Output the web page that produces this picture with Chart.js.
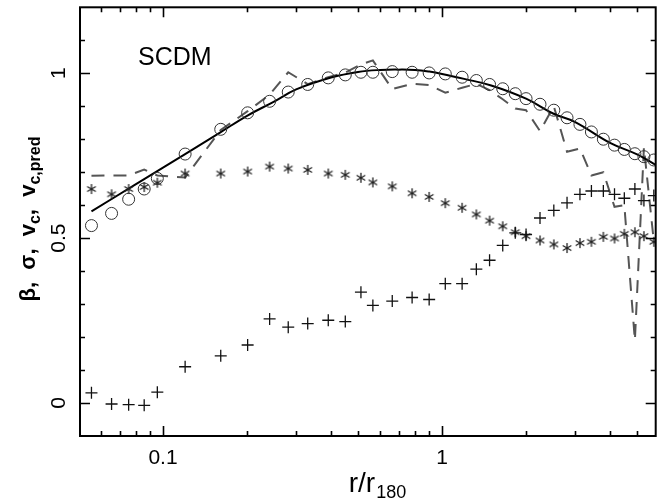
<!DOCTYPE html>
<html><head><meta charset="utf-8">
<script src="https://cdn.jsdelivr.net/npm/chart.js@4.4.1/dist/chart.umd.min.js"></script>
<style>html,body{margin:0;padding:0;background:#fff;} #wrap{width:663px;height:503px;}</style>
</head><body><div id="wrap"><canvas id="c" width="663" height="503"></canvas></div>
<script>
// ---- data ----
const radius = [0.0554, 0.0654, 0.0753, 0.0856, 0.0954, 0.120, 0.161, 0.201, 0.241, 0.281, 0.330, 0.391, 0.450, 0.512, 0.565, 0.663, 0.781, 0.899, 1.027, 1.18, 1.327, 1.48, 1.65, 1.83, 2.0, 2.244, 2.515, 2.805, 3.12, 3.43, 3.785, 4.15, 4.5, 4.91, 5.29, 5.74];
const betaVals = [0.031, -0.003, -0.005, -0.007, 0.033, 0.110, 0.143, 0.176, 0.255, 0.230, 0.241, 0.251, 0.247, 0.336, 0.296, 0.309, 0.320, 0.314, 0.362, 0.362, 0.406, 0.433, 0.478, 0.516, 0.511, 0.561, 0.584, 0.607, 0.633, 0.643, 0.643, 0.633, 0.621, 0.649, 0.614, 0.629];
const sigmaVals = [0.649, 0.633, 0.649, 0.655, 0.668, 0.696, 0.696, 0.702, 0.717, 0.711, 0.707, 0.696, 0.692, 0.683, 0.669, 0.657, 0.636, 0.625, 0.606, 0.592, 0.572, 0.553, 0.536, 0.518, 0.506, 0.493, 0.481, 0.470, 0.485, 0.489, 0.504, 0.499, 0.513, 0.518, 0.506, 0.489];
const vcVals = [0.538, 0.575, 0.618, 0.649, 0.681, 0.755, 0.830, 0.880, 0.915, 0.943, 0.966, 0.986, 0.995, 1.003, 1.003, 1.005, 1.003, 1.001, 0.998, 0.988, 0.978, 0.966, 0.953, 0.938, 0.923, 0.906, 0.888, 0.865, 0.845, 0.822, 0.800, 0.782, 0.769, 0.756, 0.747, 0.737];
const dashVals = [0.689, 0.690, 0.690, 0.708, 0.690, 0.684, 0.828, 0.885, 0.935, 1.003, 0.967, 0.988, 1.002, 1.027, 1.039, 0.952, 0.968, 0.964, 0.941, 0.956, 0.968, 0.949, 0.921, 0.893, 0.888, 0.825, 0.900, 0.762, 0.772, 0.690, 0.700, 0.595, 0.600, 0.190, 0.775, 0.490];
const predR = [0.0554, 0.08, 0.12, 0.16, 0.2, 0.25, 0.3, 0.4, 0.5, 0.6, 0.7, 0.8, 0.9, 1.0, 1.2, 1.5, 2, 2.5, 3, 4, 5, 5.83];
const predVals = [0.581, 0.664, 0.755, 0.820, 0.871, 0.914, 0.951, 0.987, 1.004, 1.010, 1.011, 1.010, 1.005, 0.998, 0.983, 0.963, 0.923, 0.878, 0.852, 0.789, 0.754, 0.722];
const xMajorTicks = [0.1, 1];
const xMinorTicks = [0.06, 0.07, 0.08, 0.09, 0.2, 0.3, 0.4, 0.5, 0.6, 0.7, 0.8, 0.9, 2, 3, 4, 5];
const yMajorTicks = [0, 0.5, 1];
const yMinorTicks = [0.1, 0.2, 0.3, 0.4, 0.6, 0.7, 0.8, 0.9, 1.1];
const xTickLabels = ['0.1', '1'];
const yTickLabels = ['0', '0.5', '1'];

const zip = (xs, ys) => xs.map((x, i) => ({x: x, y: ys[i]}));

function asterisk(r, color) {
  const c = document.createElement('canvas');
  const s = Math.ceil(2 * r + 4);
  c.width = s; c.height = s;
  const g = c.getContext('2d');
  g.strokeStyle = color; g.lineWidth = 1.3;
  const m = s / 2;
  g.beginPath();
  for (const a of [90, 30, -30]) {
    const t = a * Math.PI / 180;
    g.moveTo(m - r * Math.cos(t), m - r * Math.sin(t));
    g.lineTo(m + r * Math.cos(t), m + r * Math.sin(t));
  }
  g.stroke();
  return c;
}

const FONT = '"Liberation Sans", Arial, Helvetica, sans-serif';

const framePlugin = {
  id: 'framePlugin',
  afterDatasetsDraw(chart) {
    const ctx = chart.ctx, a = chart.chartArea;
    const xs = chart.scales.x, ys = chart.scales.y;
    ctx.save();
    ctx.strokeStyle = '#000';
    ctx.lineWidth = 2;
    ctx.strokeRect(a.left, a.top, a.right - a.left, a.bottom - a.top);
    ctx.lineWidth = 1.6;
    ctx.beginPath();
    const xt = (v, len) => {
      const p = Math.round(xs.getPixelForValue(v)) + 0.5;
      ctx.moveTo(p, a.bottom); ctx.lineTo(p, a.bottom - len);
      ctx.moveTo(p, a.top); ctx.lineTo(p, a.top + len);
    };
    const yt = (v, len) => {
      const p = Math.round(ys.getPixelForValue(v)) + 0.5;
      ctx.moveTo(a.left, p); ctx.lineTo(a.left + len, p);
      ctx.moveTo(a.right, p); ctx.lineTo(a.right - len, p);
    };
    xMajorTicks.forEach(v => xt(v, 10));
    xMinorTicks.forEach(v => xt(v, 5));
    yMajorTicks.forEach(v => yt(v, 10));
    yMinorTicks.forEach(v => yt(v, 5));
    ctx.stroke();

    ctx.fillStyle = '#000';
    ctx.font = '21px ' + FONT;
    ctx.textAlign = 'center';
    ctx.textBaseline = 'alphabetic';
    xMajorTicks.forEach((v, i) => ctx.fillText(xTickLabels[i], xs.getPixelForValue(v), 464));
    yMajorTicks.forEach((v, i) => {
      ctx.save();
      ctx.translate(65, ys.getPixelForValue(v));
      ctx.rotate(-Math.PI / 2);
      ctx.fillText(yTickLabels[i], 0, 0);
      ctx.restore();
    });

    // SCDM label
    ctx.textAlign = 'left';
    ctx.font = '25px ' + FONT;
    ctx.fillText('SCDM', 138, 65);

    // x axis title r/r_180
    const mainF = '28px ' + FONT, subF = '18px ' + FONT;
    ctx.font = mainF; const w1 = ctx.measureText('r/r').width;
    ctx.font = subF; const w2 = ctx.measureText('180').width;
    let x0 = 377 - (w1 + w2) / 2;
    ctx.font = mainF; ctx.fillText('r/r', x0, 492);
    ctx.font = subF; ctx.fillText('180', x0 + w1 + 1, 498);

    // y axis title
    const parts = [
      ['\u03b2,  \u03c3,  v', 0], ['c', 1], [',  v', 0], ['c,pred', 1]
    ];
    const yMain = 'bold 22px ' + FONT, ySub = 'bold 16px ' + FONT;
    let tot = 0;
    parts.forEach(p => { ctx.font = p[1] ? ySub : yMain; tot += ctx.measureText(p[0]).width; });
    ctx.save();
    ctx.translate(35, 219 + tot / 2);
    ctx.rotate(-Math.PI / 2);
    let cx = 0;
    parts.forEach(p => {
      ctx.font = p[1] ? ySub : yMain;
      ctx.fillText(p[0], cx, p[1] ? 5 : 0);
      cx += ctx.measureText(p[0]).width;
    });
    ctx.restore();
    ctx.restore();
  }
};

new Chart(document.getElementById('c'), {
  type: 'scatter',
  data: {
    datasets: [
      { label: 'dashed', data: zip(radius, dashVals), showLine: true, pointRadius: 0,
        borderColor: '#555', borderWidth: 2, borderDash: [13, 9], fill: false, order: 5 },
      { label: 'v_c,pred', data: zip(predR, predVals), showLine: true, pointRadius: 0,
        borderColor: '#000', borderWidth: 2, tension: 0.4, fill: false, order: 4 },
      { label: 'v_c', data: zip(radius, vcVals), showLine: false, pointStyle: 'circle', pointRadius: 6,
        borderColor: '#333', borderWidth: 1, backgroundColor: 'rgba(0,0,0,0)', order: 3 },
      { label: 'sigma', data: zip(radius, sigmaVals), showLine: false, pointStyle: asterisk(5, '#222'),
        pointRadius: 5, borderColor: '#222', order: 2 },
      { label: 'beta', data: zip(radius, betaVals), showLine: false, pointStyle: 'cross', pointRadius: 6,
        borderColor: '#111', borderWidth: 1.3, order: 1 }
    ]
  },
  options: {
    responsive: false,
    animation: false,
    events: [],
    layout: { padding: { left: 80, right: 1, top: 5, bottom: 67 } },
    plugins: { legend: { display: false }, tooltip: { enabled: false } },
    scales: {
      x: { type: 'logarithmic', min: 0.0504, max: 5.83, display: false },
      y: { type: 'linear', min: -0.1, max: 1.2, display: false }
    }
  },
  plugins: [framePlugin]
});
</script>
</body></html>
